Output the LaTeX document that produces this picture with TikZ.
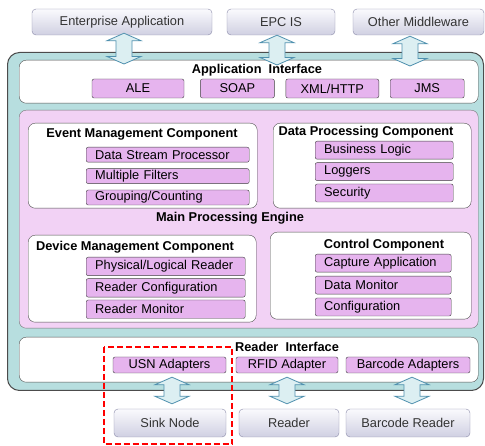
\documentclass[tikz,border=0pt]{standalone}
\usepackage{fontspec}
\setmainfont{Liberation Sans}
\usepackage{xcolor}
\usetikzlibrary{calc}
\usetikzlibrary{positioning}

\definecolor{tealbg}{HTML}{B7DEDF}
\definecolor{enginebg}{HTML}{F2D2F5}
\definecolor{itempink}{HTML}{E6B4EE}
\definecolor{arrowbg}{HTML}{DCEFF2}
\definecolor{arrowline}{HTML}{4F90AE}
\definecolor{extline}{HTML}{8A8AA8}
\definecolor{exttop}{HTML}{FAFAFD}
\definecolor{extbot}{HTML}{D0D0E2}

% double block arrow between two points, x taken from the first
\newcommand{\dblarr}[2]{%
    \draw[flow] let \p1=(#1), \p2=(#2) in
        (\x1,\y1) -- (\x1+17pt,\y1-7.5pt) -- (\x1+8pt,\y1-7.5pt)
        -- (\x1+8pt,\y2+7.5pt) -- (\x1+17pt,\y2+7.5pt) -- (\x1,\y2)
        -- (\x1-17pt,\y2+7.5pt) -- (\x1-8pt,\y2+7.5pt)
        -- (\x1-8pt,\y1-7.5pt) -- (\x1-17pt,\y1-7.5pt) -- cycle;}

\tikzset{
    ext/.style={draw=extline, rounded corners=4pt, top color=exttop,
        bottom color=extbot, minimum height=26pt, inner sep=0pt,
        text=black!80},
    panel/.style={draw=black!70, fill=white, rounded corners=7pt,
        anchor=north west, inner sep=0pt},
    item/.style={draw=black!75, fill=itempink, rounded corners=2pt,
        inner xsep=9pt, inner ysep=0pt},
    title/.style={font=\fontsize{12.8}{14}\selectfont\bfseries},
    flow/.style={draw=arrowline, fill=arrowbg, line width=0.8pt,
        line join=miter},
}

\begin{document}
\begin{tikzpicture}[x=1pt, y=-1pt, font=\fontsize{12.8}{14}\selectfont]

        \useasboundingbox (0,0) rectangle (485,446);

        \def\g{3pt}

        % outside world, top row
        \node[ext, minimum width=180pt] (EA) at (122,22) {Enterprise Application};
        \node[ext, minimum width=108pt] (EPC) at (281,22) {EPC IS};
        \node[ext, minimum width=131pt] (OM) at (418.5,22) {Other Middleware};

        % middleware frame
        \node[draw=black!70, fill=tealbg, rounded corners=12pt, line width=1pt,
            anchor=north west, minimum width=476pt, minimum height=338pt]
            (MW) at (7,52) {};

        % application interface
        \node[panel, minimum width=459pt, minimum height=43pt] (AI) at (19,60) {};
        \node[title] (AIt) at (257,70) {Application~~Interface};
        \node[item, minimum height=19pt, minimum width=92pt] (ALE) at (138,88.5) {ALE};
        \node[item, minimum height=19pt, minimum width=74pt, right=16pt of ALE] (SOAP) {SOAP};
        \node[item, minimum height=19pt, minimum width=93pt, right=11pt of SOAP] (XML) {XML/HTTP};
        \node[item, minimum height=19pt, minimum width=74pt, right=11pt of XML] (JMS) {JMS};

        % main processing engine
        \node[panel, fill=enginebg, draw=black!55, minimum width=459pt,
            minimum height=218pt] (MPE) at (19,110) {};
        \node[title] (MPEt) at (230,218) {Main Processing Engine};

        \node[panel, minimum width=229pt, minimum height=85pt] (EM) at (28,123) {};
        \node[title] (EMt) at (142,134) {Event Management Component};
        \node[item, minimum height=15pt, text width=145pt, align=left,
            anchor=north west] (DSP) at (86,147) {Data Stream Processor};
        \node[item, minimum height=15pt, text width=145pt, align=left,
            below=6pt of DSP] (MF) {Multiple Filters};
        \node[item, minimum height=15pt, text width=145pt, align=left,
            below=6pt of MF] (GC) {Grouping/Counting};

        \node[panel, minimum width=198pt, minimum height=85pt] (DP) at (273,123) {};
        \node[title] (DPt) at (366,132) {Data Processing Component};
        \node[item, minimum height=18pt, text width=120pt, align=left,
            anchor=north west] (BL) at (315,141) {Business Logic};
        \node[item, minimum height=18pt, text width=120pt, align=left,
            below=\g of BL] (LG) {Loggers};
        \node[item, minimum height=18pt, text width=120pt, align=left,
            below=\g of LG] (SEC) {Security};

        \node[panel, minimum width=228pt, minimum height=87pt] (DM) at (28,235) {};
        \node[title] (DMt) at (135,247) {Device Management Component};
        \node[item, minimum height=18.5pt, text width=141pt, align=left,
            anchor=north west] (PLR) at (86,257) {Physical/Logical Reader};
        \node[item, minimum height=18.5pt, text width=141pt, align=left,
            below=2.5pt of PLR] (RC) {Reader Configuration};
        \node[item, minimum height=18.5pt, text width=141pt, align=left,
            below=2.5pt of RC] (RM) {Reader Monitor};

        \node[panel, minimum width=201pt, minimum height=87pt] (CC) at (270,232) {};
        \node[title] (CCt) at (384,245) {Control Component};
        \node[item, minimum height=18pt, text width=118pt, align=left,
            anchor=north west] (CA) at (315,254) {Capture Application};
        \node[item, minimum height=18pt, text width=118pt, align=left,
            below=3.5pt of CA] (DMo) {Data Monitor};
        \node[item, minimum height=18pt, text width=118pt, align=left,
            below=3.5pt of DMo] (CFG) {Configuration};

        % reader interface
        \node[panel, minimum width=459pt, minimum height=45pt] (RI) at (19,337) {};
        \node[title] (RIt) at (287,347) {Reader~~Interface};
        \node[item, minimum height=16pt, minimum width=113pt] (USN) at (169.5,365) {USN Adapters};
        \node[item, minimum height=16pt, minimum width=102pt] (RFID) at (287,365) {RFID Adapter};
        \node[item, minimum height=16pt, minimum width=124pt] (BCA) at (408,365) {Barcode Adapters};

        % devices, bottom row
        \node[ext, minimum width=112pt, minimum height=28pt] (SN) at (170,423) {Sink Node};
        \node[ext, minimum width=100pt, minimum height=28pt] (RD) at (289,423) {Reader};
        \node[ext, minimum width=124pt, minimum height=28pt] (BR) at (408,423) {Barcode Reader};

        % block arrows
        \dblarr{[xshift=2pt,yshift=2pt]EA.south}{[yshift=-4pt]AI.north}
        \dblarr{[xshift=-4pt]EPC.south}{[yshift=-5pt]AI.north}
        \dblarr{[xshift=-8.5pt,yshift=-1pt]OM.south}{[yshift=-6pt]AI.north}
        \dblarr{[xshift=2.5pt,yshift=-4pt]USN.south}{[yshift=5pt]SN.north}
        \dblarr{[yshift=-4pt]RFID.south}{[yshift=5pt]RD.north}
        \dblarr{[xshift=4pt,yshift=-4pt]BCA.south}{[yshift=5pt]BR.north}

        % highlighted part
        \draw[red, line width=2pt, dash pattern=on 6pt off 3pt]
            (104,347) rectangle (232,444.5);

\end{tikzpicture}
\end{document}
